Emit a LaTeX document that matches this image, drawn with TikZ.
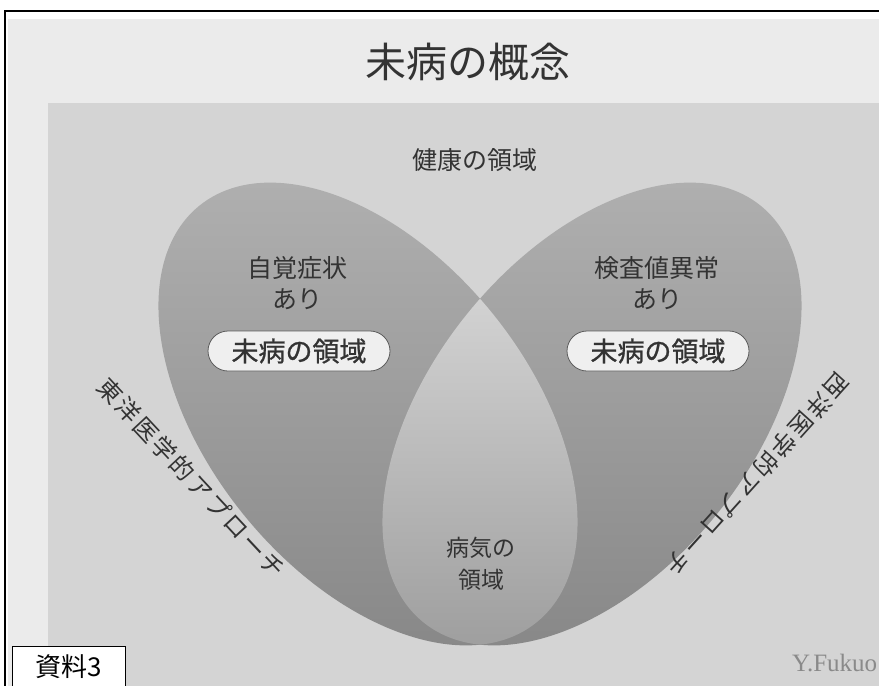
\documentclass[tikz,border=0pt]{standalone}
\usepackage{fontspec}
\newfontfamily\jp{Noto Sans CJK JP}
\newfontfamily\jpsp[LetterSpace=10]{Noto Sans CJK JP}
\newfontfamily\jpbold[FakeBold=0.9]{Noto Sans CJK JP}
\newfontfamily\ser{Liberation Serif}
\definecolor{outerbg}{HTML}{EBEBEB}
\definecolor{panel}{HTML}{D4D4D4}
\definecolor{leaftop}{HTML}{B0B0B0}
\definecolor{leafmid}{HTML}{929292}
\definecolor{leafbot}{HTML}{878787}
\definecolor{lenstop}{HTML}{D2D2D2}
\definecolor{lensmid}{HTML}{BCBCBC}
\definecolor{lensbot}{HTML}{9E9E9E}
\definecolor{txt}{HTML}{333333}
\definecolor{pillfill}{HTML}{EFEFEF}
\definecolor{signgray}{HTML}{8A8A8A}
\begin{document}
\begin{tikzpicture}[x=1pt,y=-1pt,
  lbl/.style={text=txt, inner sep=0pt, align=center, font={\jp\fontsize{25}{31}\selectfont}},
  pill/.style={draw=txt!80, line width=0.8pt, fill=pillfill, rounded corners=20pt,
    minimum width=182pt, minimum height=40pt, inner sep=0pt, text=txt,
    font={\jpbold\fontsize{27}{30}\selectfont}},
  slant/.style={text=txt, inner sep=0pt, font={\jpsp\fontsize{24}{28}\selectfont}},
  leftleaf/.style={rotate around={-51:(368,414)}},
  rightleaf/.style={rotate around={51:(592,414)}}]
\useasboundingbox (0,0) rectangle (879,686);
\clip (0,0) rectangle (879,686);
\fill[white] (0,0) rectangle (879,686);
\fill[outerbg] (8,19) rectangle (879,686);
\draw[black, line width=1.4pt] (5,686) -- (5,11) -- (879,11);
\fill[panel] (48,103) rectangle (879,686);
% left leaf
\begin{scope}
  \clip[leftleaf] (368,414) ellipse [x radius=268pt, y radius=160pt];
  \shade[top color=leaftop, middle color=leafmid, bottom color=leafbot] (140,170) rectangle (600,660);
\end{scope}
% right leaf
\begin{scope}
  \clip[rightleaf] (592,414) ellipse [x radius=268pt, y radius=160pt];
  \shade[top color=leaftop, middle color=leafmid, bottom color=leafbot] (360,170) rectangle (820,660);
\end{scope}
% overlap (disease region)
\begin{scope}
  \clip[leftleaf] (368,414) ellipse [x radius=268pt, y radius=160pt];
  \clip[rightleaf] (592,414) ellipse [x radius=268pt, y radius=160pt];
  \shade[top color=lenstop, middle color=lensmid, bottom color=lensbot] (370,298) rectangle (590,650);
\end{scope}
% texts
\node[text=txt, inner sep=0pt, font={\jp\fontsize{41}{44}\selectfont}] (title) at (468,62) {未病の概念};
\node[lbl] (health) at (475,160) {健康の領域};
\node[lbl] (subj) at (297,283) {自覚症状\\あり};
\node[lbl] (test) at (657,283) {検査値異常\\あり};
\node[pill] (pillL) at (299,351) {未病の領域};
\node[pill] (pillR) at (658,351) {未病の領域};
\node[lbl, font={\jp\fontsize{23}{32}\selectfont}] (sick) at (481,564) {病気の\\領域};
\node[slant, rotate=-47] (east) at (191,478) {東洋医学的アプローチ};
\node[slant, rotate=-132] (west) at (757,474) {西洋医学的アプローチ};
\node[anchor=west, inner sep=0pt, text=signgray, font={\ser\fontsize{25}{27}\selectfont}] (sign) at (792,663) {Y.Fukuo};
\node[draw=black, line width=1pt, fill=white, minimum width=113pt, minimum height=41pt,
  inner sep=0pt, font={\jp\fontsize{26}{28}\selectfont}] (doc) at (68.5,667) {資料3};
\end{tikzpicture}
\end{document}
